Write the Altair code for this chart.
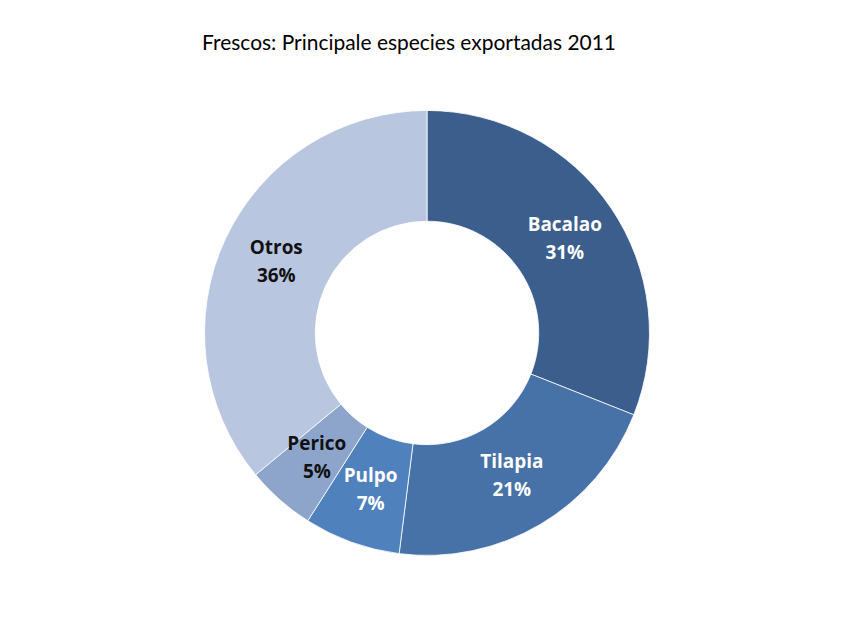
import altair as alt
import pandas as pd

species = ["Bacalao", "Tilapia", "Pulpo", "Perico", "Otros"]
shares = [31, 21, 7, 5, 36]
fill_colors = ["#3B5E8D", "#4672A8", "#4F81BD", "#8DA4CB", "#B9C6E0"]
label_colors = ["#FFFFFF", "#FFFFFF", "#FFFFFF", "#111111", "#111111"]

df = pd.DataFrame({
    "especie": species,
    "valor": shares,
    "orden": list(range(len(species))),
    "label": [f"{s}\n{v}%" for s, v in zip(species, shares)],
    "tcolor": label_colors,
})

base = alt.Chart(df).encode(
    theta=alt.Theta("valor:Q", stack=True),
    order=alt.Order("orden:Q"),
)

arcs = base.mark_arc(outerRadius=223, innerRadius=112, stroke="#FFFFFF", strokeWidth=0.8).encode(
    color=alt.Color("especie:N", scale=alt.Scale(domain=species, range=fill_colors), legend=None)
)

labels = base.mark_text(
    radius=167, font="Open Sans", fontSize=19, fontWeight="bold", lineBreak="\n", lineHeight=28,
    align="center", baseline="middle", dy=-14
).encode(
    text="label:N",
    color=alt.Color("tcolor:N", scale=None),
)

chart = alt.layer(arcs, labels).properties(
    width=840, height=536,
    autosize=alt.AutoSizeParams(type="none"),
    padding={"top": 57, "left": 0, "right": 0, "bottom": 4},
    title=alt.TitleParams(
        "Frescos: Principale especies exportadas 2011",
        font="Lato", fontSize=21, fontWeight="normal", color="#000000",
        anchor="middle", offset=12, dx=-18,
    ),
).configure_view(stroke=None)

chart.save("out.html", embed_options={"renderer": "svg", "actions": False})
